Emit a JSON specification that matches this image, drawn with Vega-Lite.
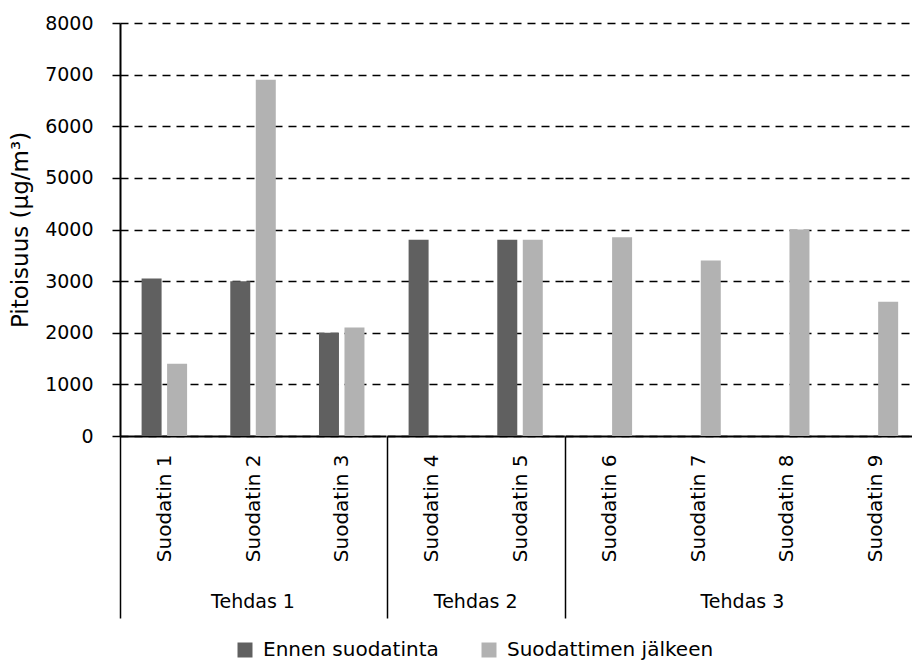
{
  "$schema": "https://vega.github.io/schema/vega-lite/v6.json",
  "padding": {"left": 9, "top": 14, "right": 0, "bottom": 0},
  "background": "white",
  "data": {"values": [
    {"tehdas": "Tehdas 1", "suodatin": "Suodatin 1", "sarja": "Ennen suodatinta", "arvo": 3050},
    {"tehdas": "Tehdas 1", "suodatin": "Suodatin 1", "sarja": "Suodattimen jälkeen", "arvo": 1400},
    {"tehdas": "Tehdas 1", "suodatin": "Suodatin 2", "sarja": "Ennen suodatinta", "arvo": 3000},
    {"tehdas": "Tehdas 1", "suodatin": "Suodatin 2", "sarja": "Suodattimen jälkeen", "arvo": 6900},
    {"tehdas": "Tehdas 1", "suodatin": "Suodatin 3", "sarja": "Ennen suodatinta", "arvo": 2000},
    {"tehdas": "Tehdas 1", "suodatin": "Suodatin 3", "sarja": "Suodattimen jälkeen", "arvo": 2100},
    {"tehdas": "Tehdas 2", "suodatin": "Suodatin 4", "sarja": "Ennen suodatinta", "arvo": 3800},
    {"tehdas": "Tehdas 2", "suodatin": "Suodatin 5", "sarja": "Ennen suodatinta", "arvo": 3800},
    {"tehdas": "Tehdas 2", "suodatin": "Suodatin 5", "sarja": "Suodattimen jälkeen", "arvo": 3800},
    {"tehdas": "Tehdas 3", "suodatin": "Suodatin 6", "sarja": "Suodattimen jälkeen", "arvo": 3850},
    {"tehdas": "Tehdas 3", "suodatin": "Suodatin 7", "sarja": "Suodattimen jälkeen", "arvo": 3400},
    {"tehdas": "Tehdas 3", "suodatin": "Suodatin 8", "sarja": "Suodattimen jälkeen", "arvo": 4000},
    {"tehdas": "Tehdas 3", "suodatin": "Suodatin 9", "sarja": "Suodattimen jälkeen", "arvo": 2600}
  ]},
  "facet": {
    "column": {
      "field": "tehdas", "type": "nominal", "title": null,
      "header": {"labelOrient": "bottom", "labelFont": "DejaVu Sans", "labelFontSize": 19, "labelColor": "black", "labelPadding": 157}
    }
  },
  "spacing": 0,
  "bounds": "flush",
  "resolve": {"scale": {"x": "independent"}},
  "spec": {
    "width": {"step": 25.5},
    "height": 413,
    "mark": {"type": "bar"},
    "encoding": {
      "x": {
        "field": "suodatin", "type": "nominal", "title": null,
        "scale": {"paddingInner": 0, "paddingOuter": 0},
        "axis": {
          "tickBand": "extent", "labelAngle": -90, "labelPadding": -164,
          "labelFont": "DejaVu Sans", "labelFontSize": 20, "labelColor": "black",
          "tickSize": 182, "tickWidth": 1.5,
          "tickColor": {"condition": {"test": "datum.extra != null", "value": "black"}, "value": "transparent"},
          "domainColor": "black", "domainWidth": 2, "grid": false
        }
      },
      "xOffset": {
        "field": "sarja", "type": "nominal",
        "scale": {"domain": ["Ennen suodatinta", "Suodattimen jälkeen"], "paddingInner": 0.216, "paddingOuter": 0.847}
      },
      "y": {
        "field": "arvo", "type": "quantitative",
        "scale": {"domain": [0, 8000]},
        "axis": {
          "values": [0, 1000, 2000, 3000, 4000, 5000, 6000, 7000, 8000], "format": "d",
          "title": "Pitoisuus (µg/m³)", "titleFont": "DejaVu Sans", "titleFontSize": 23, "titleFontWeight": "normal", "titleColor": "black", "titlePadding": 12,
          "labelFont": "DejaVu Sans", "labelFontSize": 19, "labelColor": "black", "labelPadding": 19,
          "tickSize": 8, "tickColor": "black", "tickWidth": 1.5,
          "domainColor": "black", "domainWidth": 2,
          "grid": true, "gridColor": "black", "gridDash": [8, 6], "gridWidth": 1.5
        }
      },
      "color": {
        "field": "sarja", "type": "nominal",
        "scale": {"domain": ["Ennen suodatinta", "Suodattimen jälkeen"], "range": ["#606060", "#b2b2b2"]},
        "legend": {
          "title": null, "orient": "none", "direction": "horizontal", "legendX": 115, "legendY": 617,
          "symbolType": "square", "symbolSize": 225, "symbolStrokeWidth": 0, "symbolOpacity": 1,
          "labelFont": "DejaVu Sans", "labelFontSize": 20, "labelColor": "black", "labelOffset": 8, "labelLimit": 0, "columnPadding": 40
        }
      }
    }
  },
  "config": {"view": {"stroke": null}, "font": "DejaVu Sans"}
}
